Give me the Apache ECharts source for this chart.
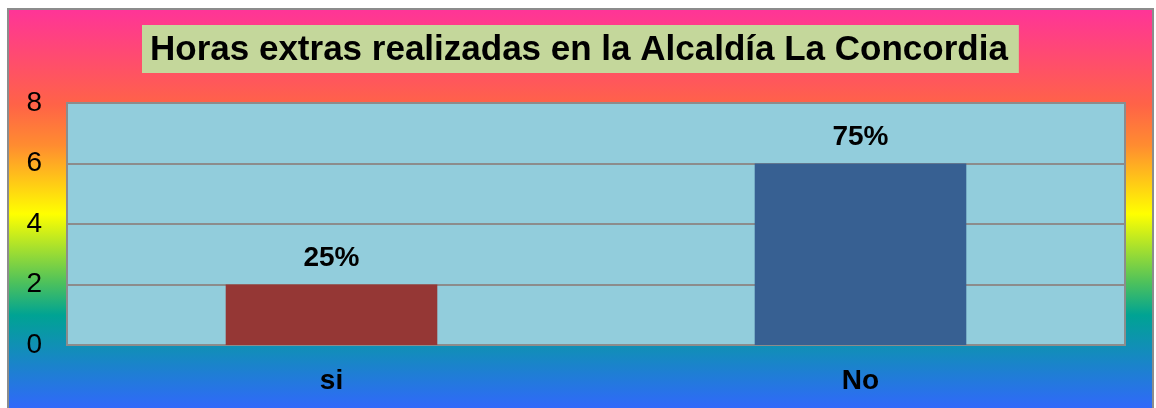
<!DOCTYPE html>
<html>
<head>
<meta charset="utf-8">
<script src="https://cdn.jsdelivr.net/npm/echarts@6/dist/echarts.min.js"></script>
<style>html,body{margin:0;padding:0;background:#fff;}#c{width:1156px;height:408px;}</style>
</head>
<body>
<div id="c"></div>
<script>
var categories = ['si', 'No'];
var values = [2, 6];
var percentLabels = ['25%', '75%'];
var barColors = ['#953735', '#376092'];
var yTicks = { min: 0, max: 8, interval: 2 };
var titleText = 'Horas extras realizadas en la Alcaldía La Concordia';

var FONT = '"Liberation Sans", Arial, sans-serif';
var chart = echarts.init(document.getElementById('c'));
chart.setOption({
  animation: false,
  graphic: [{
    type: 'rect',
    z: -10,
    silent: true,
    shape: { x: 8, y: 9, width: 1145, height: 402 },
    style: {
      fill: new echarts.graphic.LinearGradient(0, 0, 0, 1, [
        { offset: 0, color: '#FF3399' },
        { offset: 0.24, color: '#FF6347' },
        { offset: 0.34, color: '#FF8C30' },
        { offset: 0.51, color: '#FFFF00' },
        { offset: 0.68, color: '#4DC15C' },
        { offset: 0.76, color: '#00A393' },
        { offset: 1, color: '#3366FF' }
      ]),
      stroke: '#8C8C8C',
      lineWidth: 2
    }
  }],
  title: {
    text: titleText,
    left: 142,
    top: 25,
    backgroundColor: '#C4D79B',
    padding: [5, 11, 3, 8],
    textStyle: {
      fontFamily: FONT,
      fontSize: 35,
      fontWeight: 'bold',
      color: '#000',
      lineHeight: 40
    }
  },
  grid: {
    left: 67, right: 31, top: 103, bottom: 63,
    show: true,
    backgroundColor: '#92CDDC',
    borderColor: '#8C8C8C',
    borderWidth: 2
  },
  xAxis: {
    type: 'category',
    data: categories,
    axisLine: { show: true, lineStyle: { color: '#8C8C8C', width: 2 } },
    axisTick: { show: false },
    axisLabel: {
      margin: 22,
      fontFamily: FONT,
      fontSize: 28,
      fontWeight: 'bold',
      color: '#000'
    }
  },
  yAxis: {
    type: 'value',
    min: yTicks.min, max: yTicks.max, interval: yTicks.interval,
    axisLine: { show: false },
    axisTick: { show: false },
    splitLine: { lineStyle: { color: '#8C8C8C', width: 2 } },
    axisLabel: {
      margin: 25,
      fontFamily: FONT,
      fontSize: 28,
      color: '#000'
    }
  },
  series: [{
    type: 'bar',
    barWidth: '40%',
    data: values.map(function (v, i) {
      return { value: v, itemStyle: { color: barColors[i] } };
    }),
    label: {
      show: true,
      position: 'top',
      distance: 12,
      formatter: function (p) { return percentLabels[p.dataIndex]; },
      fontFamily: FONT,
      fontSize: 28,
      fontWeight: 'bold',
      color: '#000'
    }
  }]
});
</script>
</body>
</html>
